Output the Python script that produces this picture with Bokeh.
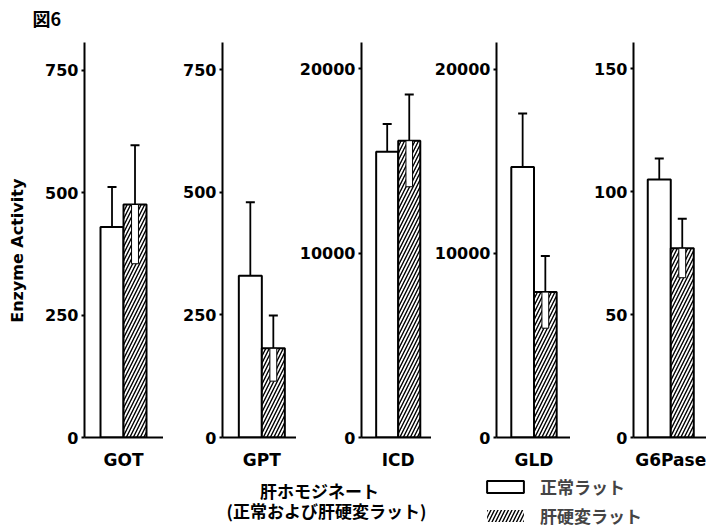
import math
from bokeh.plotting import figure
from bokeh.models import (ColumnDataSource, Range1d, FixedTicker, Whisker, TeeHead,
                          Legend, LegendItem)
from bokeh.layouts import row, column
from bokeh.embed import file_html
from bokeh.resources import INLINE
from bokeh.core.properties import value

# ---------------- data ----------------
enzymes = ["GOT", "GPT", "ICD", "GLD", "G6Pase"]
normal_mean = [430, 330, 15500, 14700, 105]
normal_err = [82, 150, 1500, 2900, 8.5]
cirrhosis_mean = [476, 182, 16100, 7900, 77]
cirrhosis_err = [121, 67, 2500, 1960, 12]
y_ticks = [[0, 250, 500, 750], [0, 250, 500, 750], [0, 10000, 20000],
           [0, 10000, 20000], [0, 50, 100, 150]]
y_max = [807, 806, 21425, 21465, 160.7]
series_labels = ["正常ラット", "肝硬変ラット"]
title_text = "図6"
y_label = "Enzyme Activity"
x_label_lines = ["肝ホモジネート", "(正常および肝硬変ラット)"]

# ---------------- layout / style ----------------
PAGE_W = 706
HEADER_H = 30
ROW_H = 442
BOTTOM_H = 56
LEFT_W = 40
fig_widths = [123, 133, 135, 139, 136]
border_left = [44, 59, 62, 64, 63]
x_pad_left = [0.696, 0.71, 0.665, 0.652, 0.62]
PX_PER_UNIT = 23
NUM_FONT = "DejaVu Sans"
JP_FONT = "Noto Sans CJK JP"
HATCH = dict(hatch_pattern="/", hatch_scale=7, hatch_weight=1.4, hatch_color="black")


def blank(width, height):
    f = figure(width=width, height=height, output_backend="svg", toolbar_location=None,
               x_range=Range1d(0, width), y_range=Range1d(0, height), min_border=0,
               outline_line_color=None, background_fill_color="white",
               border_fill_color="white")
    f.axis.visible = False
    f.grid.visible = False
    return f


# header with the figure number
header = blank(PAGE_W, HEADER_H)
header.text(x=[32], y=[13], text=[title_text], text_align="left", text_baseline="middle",
            text_font=value(JP_FONT), text_font_style="bold", text_font_size="18px",
            text_color="black")

# left strip with the y-axis title
left = blank(LEFT_W, ROW_H)
left.text(x=[17], y=[ROW_H - 233], text=[y_label], angle=math.pi / 2,
          text_align="center", text_baseline="middle", text_font=value(NUM_FONT),
          text_font_style="bold", text_font_size="16px", text_color="black")

figs = []
for i, name in enumerate(enzymes):
    fw = fig_widths[i] - border_left[i]
    pad = x_pad_left[i]
    p = figure(width=fig_widths[i], height=ROW_H, output_backend="svg", toolbar_location=None,
               x_range=Range1d(-pad, fw / PX_PER_UNIT - pad), y_range=Range1d(0, y_max[i]),
               min_border_left=border_left[i], min_border_right=0,
               min_border_top=12, min_border_bottom=34,
               outline_line_color=None, background_fill_color="white",
               border_fill_color="white")
    p.grid.visible = False

    n_src = ColumnDataSource(dict(x=[0.5], top=[normal_mean[i]],
                                  upper=[normal_mean[i] + normal_err[i]],
                                  lower=[normal_mean[i] - normal_err[i]]))
    c_src = ColumnDataSource(dict(x=[1.5], top=[cirrhosis_mean[i]],
                                  upper=[cirrhosis_mean[i] + cirrhosis_err[i]],
                                  lower=[cirrhosis_mean[i] - cirrhosis_err[i]]))

    p.vbar(x="x", top="top", bottom=0, width=1, source=n_src,
           fill_color="white", line_color="black", line_width=2)
    p.vbar(x="x", top="top", bottom=0, width=1, source=c_src,
           fill_color="white", line_color="black", line_width=2, **HATCH)
    # cleared notch around the error line inside the hatched bar
    p.vbar(x="x", top="top", bottom="lower", width=0.3, source=c_src,
           fill_color="white", line_color="black", line_width=1)

    for src in (n_src, c_src):
        p.add_layout(Whisker(source=src, base="x", upper="upper", lower="lower",
                             line_width=1.8, line_color="black",
                             upper_head=TeeHead(size=9, line_width=2, line_color="black"),
                             lower_head=TeeHead(size=9, line_width=2, line_color="black")))

    ya = p.yaxis[0]
    ya.ticker = FixedTicker(ticks=y_ticks[i])
    ya.axis_line_width = 2
    ya.axis_line_color = "black"
    ya.major_tick_out = 3
    ya.major_tick_in = 0
    ya.major_tick_line_width = 2
    ya.minor_tick_line_color = None
    ya.major_label_standoff = 3
    ya.major_label_text_font = NUM_FONT
    ya.major_label_text_font_style = "bold"
    ya.major_label_text_font_size = "16px"
    ya.major_label_text_color = "black"

    xa = p.xaxis[0]
    xa.ticker = FixedTicker(ticks=[1])
    xa.major_label_overrides = {1: name}
    xa.axis_line_width = 2
    xa.axis_line_color = "black"
    xa.major_tick_line_color = None
    xa.minor_tick_line_color = None
    xa.major_tick_out = 0
    xa.major_tick_in = 0
    xa.major_label_standoff = 12
    xa.major_label_text_font = NUM_FONT
    xa.major_label_text_font_style = "bold"
    xa.major_label_text_font_size = "17px"
    xa.major_label_text_color = "black"
    figs.append(p)

# ---------------- bottom strip: x label + legend ----------------
fb = blank(PAGE_W, BOTTOM_H)
fb.text(x=[319, 326], y=[BOTTOM_H - 18, BOTTOM_H - 38], text=x_label_lines,
        text_align="center", text_baseline="middle", text_font=value(JP_FONT),
        text_font_style="bold", text_font_size="17px", text_color="black")

leg_n = fb.vbar(x=[0], top=[normal_mean[0]], width=1, fill_color="white",
                line_color="black", line_width=2, visible=False)
leg_c = fb.vbar(x=[0], top=[cirrhosis_mean[0]], width=1, fill_color="white",
                line_color=None, visible=False, **HATCH)
legend = Legend(items=[LegendItem(label=series_labels[0], renderers=[leg_n]),
                       LegendItem(label=series_labels[1], renderers=[leg_c])],
                location=(482, 0), orientation="vertical",
                glyph_width=46, glyph_height=15, label_height=20, spacing=4,
                label_standoff=12, padding=0, margin=0,
                border_line_color=None, background_fill_alpha=0,
                label_text_font=JP_FONT, label_text_font_style="bold",
                label_text_font_size="17px", label_text_baseline="middle")
fb.add_layout(legend)

layout = column(header, row(left, *figs, spacing=0), fb, spacing=0)
open("out.html", "w").write(file_html(layout, INLINE))
